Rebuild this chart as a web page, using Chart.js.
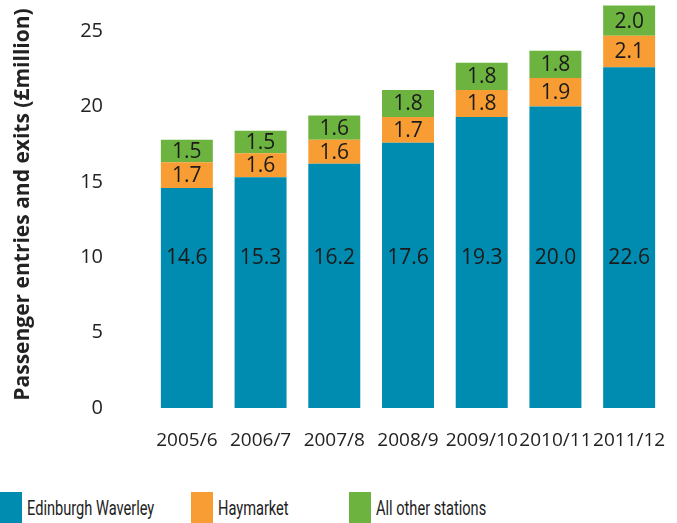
<!DOCTYPE html>
<html>
<head>
<meta charset="utf-8">
<script src="https://cdn.jsdelivr.net/npm/chart.js@4"></script>
<style>
  html, body { margin: 0; padding: 0; background: #fff; }
  #wrap { position: relative; width: 677px; height: 523px; overflow: hidden; }
  #c { position: absolute; left: 0; top: 0; }
  #legend { position: absolute; left: 0; top: 492px; display: flex; font-family: "Roboto", sans-serif; font-size: 20px; color: #222; }
  .item { display: flex; align-items: center; }
  .box { width: 22px; height: 31px; margin-right: 5px; flex: none; }
  .txt { display: inline-block; transform: scaleX(0.73); transform-origin: left center; white-space: nowrap; }
</style>
</head>
<body>
<div id="wrap">
  <canvas id="c" width="677" height="480"></canvas>
  <div id="legend"></div>
</div>
<script>
const categories = ["2005/6", "2006/7", "2007/8", "2008/9", "2009/10", "2010/11", "2011/12"];
const edinburghWaverley = [14.6, 15.3, 16.2, 17.6, 19.3, 20.0, 22.6];
const haymarket = [1.7, 1.6, 1.6, 1.7, 1.8, 1.9, 2.1];
const allOtherStations = [1.5, 1.5, 1.6, 1.8, 1.8, 1.8, 2.0];
const seriesNames = ["Edinburgh Waverley", "Haymarket", "All other stations"];
const seriesColors = ["#008BB0", "#F79D34", "#6DB33F"];
const yTicks = [0, 5, 10, 15, 20, 25];

const FONT = '"Open Sans", sans-serif';

const labelPlugin = {
  id: 'segLabels',
  afterDatasetsDraw(chart) {
    const ctx = chart.ctx;
    const yScale = chart.scales.y;
    ctx.save();
    ctx.font = '21px ' + FONT;
    ctx.fillStyle = '#1a1a1a';
    ctx.textAlign = 'center';
    ctx.textBaseline = 'middle';
    chart.data.datasets.forEach((ds, i) => {
      const meta = chart.getDatasetMeta(i);
      meta.data.forEach((bar, j) => {
        const v = ds.data[j];
        const y = i === 0 ? yScale.getPixelForValue(10) : (bar.y + bar.base) / 2;
        ctx.fillText(v.toFixed(1), bar.x, y + 1);
      });
    });
    ctx.restore();
  }
};

const datasets = [edinburghWaverley, haymarket, allOtherStations].map((d, i) => ({
  label: seriesNames[i],
  data: d,
  backgroundColor: seriesColors[i],
  borderWidth: 0,
  barPercentage: 0.705,
  categoryPercentage: 1.0
}));

new Chart(document.getElementById('c'), {
  type: 'bar',
  data: { labels: categories, datasets },
  options: {
    responsive: false,
    animation: false,
    layout: { padding: { top: 1, right: 11, bottom: 26, left: 0 } },
    plugins: { legend: { display: false }, tooltip: { enabled: false } },
    scales: {
      x: {
        stacked: true,
        grid: { display: false, drawTicks: false },
        border: { display: false },
        afterFit(scale) { scale.height = 46; scale.paddingLeft = 0; scale.paddingRight = 0; },
        ticks: { autoSkip: false, padding: 21, color: '#222', font: { family: FONT, size: 19 }, maxRotation: 0, minRotation: 0 }
      },
      y: {
        stacked: true,
        min: 0,
        max: 27,
        grid: { display: false, drawTicks: false },
        border: { display: false },
        afterBuildTicks(scale) { scale.ticks = yTicks.map(v => ({ value: v })); },
        afterFit(scale) { scale.width = 150; scale.paddingTop = 0; scale.paddingBottom = 0; },
        ticks: { padding: 47, color: '#222', font: { family: FONT, size: 20 } },
        title: {
          display: true,
          text: 'Passenger entries and exits (£million)',
          color: '#222',
          padding: { top: 10, bottom: 0 },
          font: { family: FONT, size: 21, weight: 'bold' }
        }
      }
    }
  },
  plugins: [labelPlugin]
});

const legend = document.getElementById('legend');
const widths = ['191px', '158px', '200px'];
seriesNames.forEach((n, i) => {
  const item = document.createElement('div');
  item.className = 'item';
  item.style.width = widths[i];
  const box = document.createElement('div');
  box.className = 'box';
  box.style.background = seriesColors[i];
  const t = document.createElement('span');
  t.className = 'txt';
  t.textContent = n;
  item.appendChild(box);
  item.appendChild(t);
  legend.appendChild(item);
});
</script>
</body>
</html>
